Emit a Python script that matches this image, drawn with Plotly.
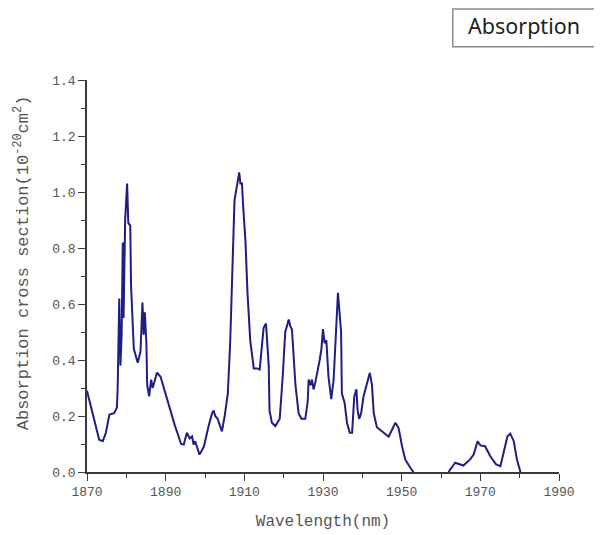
import plotly.graph_objects as go

# Band 1 (1870-1953 nm)
wl_band1 = [1870.0, 1871.9, 1873.1, 1874.0, 1874.8, 1875.7, 1876.9, 1877.6, 1877.8, 1878.2,
            1878.5, 1878.8, 1879.1, 1879.3, 1879.7, 1880.2, 1880.5, 1881.0, 1881.2, 1881.9,
            1882.9, 1883.6, 1883.8, 1884.1, 1884.4, 1884.7, 1885.1, 1885.3, 1885.8, 1886.3,
            1886.7, 1887.8, 1888.7, 1889.5, 1890.4, 1891.2, 1892.4, 1893.3, 1893.9, 1894.6,
            1895.4, 1896.1, 1896.7, 1897.1, 1897.5, 1898.6, 1899.7, 1900.9, 1901.8, 1902.2,
            1902.6, 1903.2, 1904.3, 1905.0, 1905.8, 1906.4, 1907.1, 1907.5, 1908.1, 1908.7,
            1909.0, 1909.4, 1909.7, 1910.3, 1910.8, 1911.5, 1912.4, 1913.2, 1913.9, 1914.5,
            1914.9, 1915.5, 1915.9, 1916.2, 1916.4, 1917.0, 1917.9, 1919.0, 1919.8, 1920.4,
            1921.3, 1921.7, 1922.1, 1922.5, 1923.0, 1923.8, 1924.5, 1925.5, 1926.1, 1926.35,
            1926.8, 1927.2, 1927.6, 1928.05, 1928.6, 1929.15, 1929.6, 1930.0, 1930.4, 1930.85,
            1931.4, 1932.1, 1932.7, 1933.1, 1933.55, 1933.8, 1934.2, 1934.6, 1934.8, 1935.5,
            1936.1, 1936.8, 1937.4, 1937.95, 1938.5, 1938.8, 1939.2, 1939.7, 1940.3, 1941.2,
            1941.9, 1942.45, 1942.9, 1943.7, 1945.0, 1946.7, 1948.4, 1949.2, 1950.1, 1950.9,
            1952.2, 1953.0]
cs_band1 = [0.29, 0.18, 0.115, 0.11, 0.14, 0.205, 0.21, 0.23, 0.30, 0.62,
            0.38, 0.49, 0.82, 0.55, 0.90, 1.03, 0.89, 0.88, 0.665, 0.44,
            0.39, 0.43, 0.51, 0.605, 0.49, 0.57, 0.46, 0.31, 0.27, 0.33,
            0.30, 0.355, 0.34, 0.30, 0.26, 0.22, 0.163, 0.127, 0.10, 0.098,
            0.14, 0.12, 0.127, 0.098, 0.11, 0.062, 0.09, 0.163, 0.21, 0.22,
            0.20, 0.19, 0.145, 0.20, 0.28, 0.46, 0.76, 0.97, 1.02, 1.07,
            1.03, 1.03, 0.95, 0.82, 0.64, 0.47, 0.37, 0.37, 0.366, 0.45,
            0.515, 0.53, 0.44, 0.38, 0.22, 0.176, 0.164, 0.19, 0.35, 0.50,
            0.545, 0.52, 0.51, 0.43, 0.31, 0.21, 0.19, 0.19, 0.25, 0.33,
            0.31, 0.33, 0.295, 0.32, 0.354, 0.40, 0.44, 0.51, 0.46, 0.47,
            0.34, 0.26, 0.33, 0.45, 0.62, 0.64, 0.57, 0.50, 0.28, 0.247,
            0.176, 0.14, 0.14, 0.27, 0.295, 0.22, 0.19, 0.21, 0.27, 0.32,
            0.354, 0.31, 0.21, 0.16, 0.146, 0.126, 0.176, 0.158, 0.092, 0.045,
            0.015, 0.0]

# Band 2 (1962-1980 nm)
wl_band2 = [1961.9, 1963.6, 1965.7, 1967.4, 1968.3, 1969.3, 1970.0, 1971.2, 1972.5, 1974.0,
            1975.1, 1976.1, 1976.9, 1977.6, 1978.5, 1979.3, 1980.2]
cs_band2 = [0.0, 0.033, 0.023, 0.045, 0.062, 0.11, 0.095, 0.092, 0.057, 0.027,
            0.021, 0.08, 0.128, 0.137, 0.11, 0.045, 0.0]

x_tickvals = [1870, 1890, 1910, 1930, 1950, 1970, 1990]
y_tickvals = [0.0, 0.2, 0.4, 0.6, 0.8, 1.0, 1.2, 1.4]

line_color = "#1e1e85"
mono = "Liberation Mono, DejaVu Sans Mono, monospace"
axis_col = "#3a3a3a"
text_col = "#555555"

fig = go.Figure()
for wl, cs in [(wl_band1, cs_band1), (wl_band2, cs_band2)]:
    fig.add_trace(go.Scatter(x=wl, y=cs, mode="lines", name="Absorption",
                             line=dict(color=line_color, width=2), showlegend=False))

axis_common = dict(showgrid=False, zeroline=False, showline=True, linecolor=axis_col,
                   linewidth=1.5, ticks="outside", ticklen=7, tickwidth=1.3,
                   tickcolor=axis_col, tickfont=dict(family=mono, size=13, color=text_col))

fig.update_xaxes(range=[1870, 1990], tickvals=x_tickvals,
                 minor=dict(dtick=10, tick0=1870, ticks="outside", ticklen=4, tickcolor=axis_col, tickwidth=1.2),
                 title=dict(text="Wavelength(nm)", font=dict(family=mono, size=16, color=text_col), standoff=15),
                 **axis_common)
fig.update_yaxes(range=[0, 1.4], tickvals=y_tickvals, tickformat=".1f",
                 minor=dict(dtick=0.1, tick0=0, ticks="outside", ticklen=4, tickcolor=axis_col, tickwidth=1.2),
                 **axis_common)

# y-axis title as a rotated annotation
fig.add_annotation(xref="paper", yref="paper", x=-0.1377, y=0.5325, xanchor="center", yanchor="middle",
                   textangle=-90, showarrow=False,
                   text="Absorption cross section(10<sup>-20</sup>cm<sup>2</sup>)",
                   font=dict(family=mono, size=17, color=text_col))

# legend-like box
fig.add_shape(type="rect", xref="paper", yref="paper", x0=0.775, x1=1.2, y0=1.0848, y1=1.181,
              line=dict(color="#8a8a8a", width=1.5), fillcolor="white", layer="above")
fig.add_annotation(xref="paper", yref="paper", x=0.803, y=1.138, xanchor="left", yanchor="middle",
                   text="Absorption", showarrow=False,
                   font=dict(family="Noto Sans, Open Sans, sans-serif", size=21.5, color="#222222"))

fig.update_layout(width=602, height=535, autosize=False,
                  margin=dict(l=79, r=51, t=72, b=70.5, pad=0),
                  paper_bgcolor="white", plot_bgcolor="white")

fig.write_html("out.html")
